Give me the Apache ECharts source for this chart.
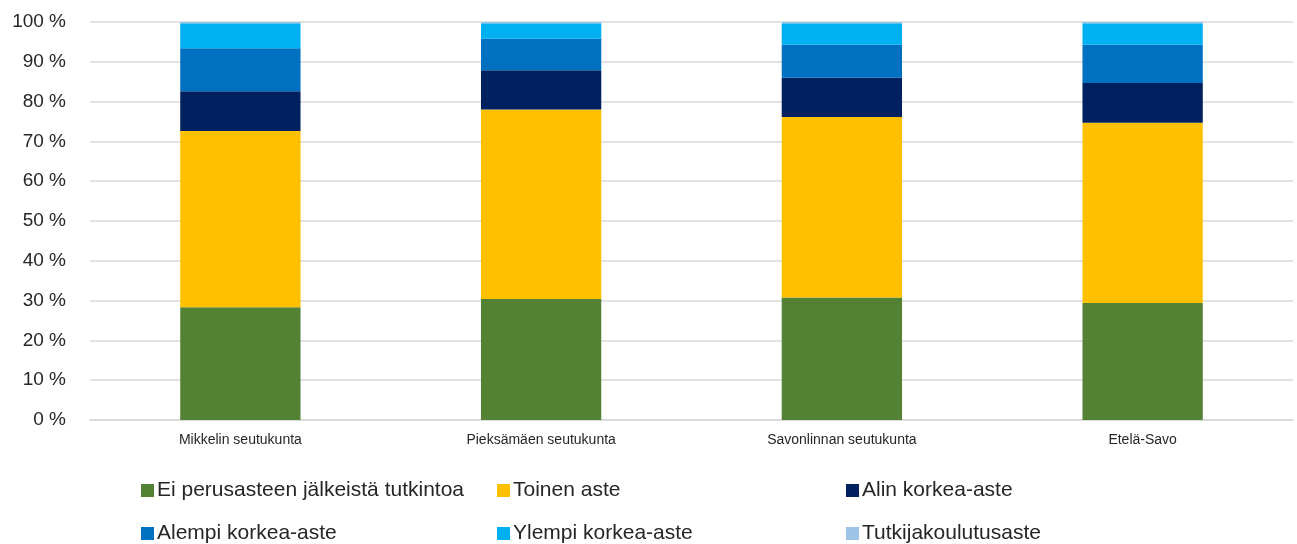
<!DOCTYPE html>
<html>
<head>
<meta charset="utf-8">
<script src="https://cdn.jsdelivr.net/npm/echarts@6/dist/echarts.min.js"></script>
<style>
html,body{margin:0;padding:0;background:#fff;}
#chart{width:1297px;height:544px;}
</style>
</head>
<body>
<div id="chart"></div>
<script>
var categories = ['Mikkelin seutukunta', 'Pieksämäen seutukunta', 'Savonlinnan seutukunta', 'Etelä-Savo'];
var seriesNames = ['Ei perusasteen jälkeistä tutkintoa', 'Toinen aste', 'Alin korkea-aste', 'Alempi korkea-aste', 'Ylempi korkea-aste', 'Tutkijakoulutusaste'];
var eiPerusaste = [28.3, 30.4, 30.8, 29.4];
var toinenAste = [44.3, 47.6, 45.3, 45.3];
var alinKorkea = [10.0, 9.9, 9.9, 10.0];
var alempiKorkea = [10.8, 7.9, 8.3, 9.6];
var ylempiKorkea = [6.3, 3.9, 5.4, 5.4];
var tutkija = [0.3, 0.3, 0.3, 0.3];
var yTicks = [0, 10, 20, 30, 40, 50, 60, 70, 80, 90, 100];

var colors = ['#548235', '#FFC000', '#002060', '#0070C0', '#00B0F0', '#9DC3E6'];
var values = [eiPerusaste, toinenAste, alinKorkea, alempiKorkea, ylempiKorkea, tutkija];
var font = 'Liberation Sans, Arial, sans-serif';

var chart = echarts.init(document.getElementById('chart'), null, {renderer: 'canvas'});

var legendPos = [
  {left: 141, top: 480}, {left: 497, top: 480}, {left: 846, top: 480},
  {left: 141, top: 523}, {left: 497, top: 523}, {left: 846, top: 523}
];
var legends = seriesNames.map(function (n, i) {
  return {
    data: [n], left: legendPos[i].left, top: legendPos[i].top, padding: 0,
    itemWidth: 13, itemHeight: 13, icon: 'rect', selectedMode: false,
    textStyle: {fontFamily: font, fontSize: 21, color: '#262626', padding: [0, 0, 0, -2]}
  };
});

var series = seriesNames.map(function (n, i) {
  return {
    name: n, type: 'bar', stack: 'total', barWidth: '40%',
    itemStyle: {color: colors[i]},
    data: values[i]
  };
});

chart.setOption({
  animation: false,
  color: colors,
  grid: {left: 90, right: 4, top: 22, bottom: 124, containLabel: false},
  legend: legends,
  xAxis: {
    type: 'category', data: categories,
    axisLine: {lineStyle: {color: '#d9d9d9', width: 1.5}},
    axisTick: {show: false},
    axisLabel: {fontFamily: font, fontSize: 14, color: '#262626', margin: 13}
  },
  yAxis: {
    type: 'value', min: yTicks[0], max: yTicks[yTicks.length - 1], interval: 10,
    axisLine: {show: false}, axisTick: {show: false},
    splitLine: {lineStyle: {color: '#d9d9d9', width: 1.5}},
    axisLabel: {fontFamily: font, fontSize: 19, color: '#262626', margin: 24, formatter: '{value} %'}
  },
  series: series
});
</script>
</body>
</html>
